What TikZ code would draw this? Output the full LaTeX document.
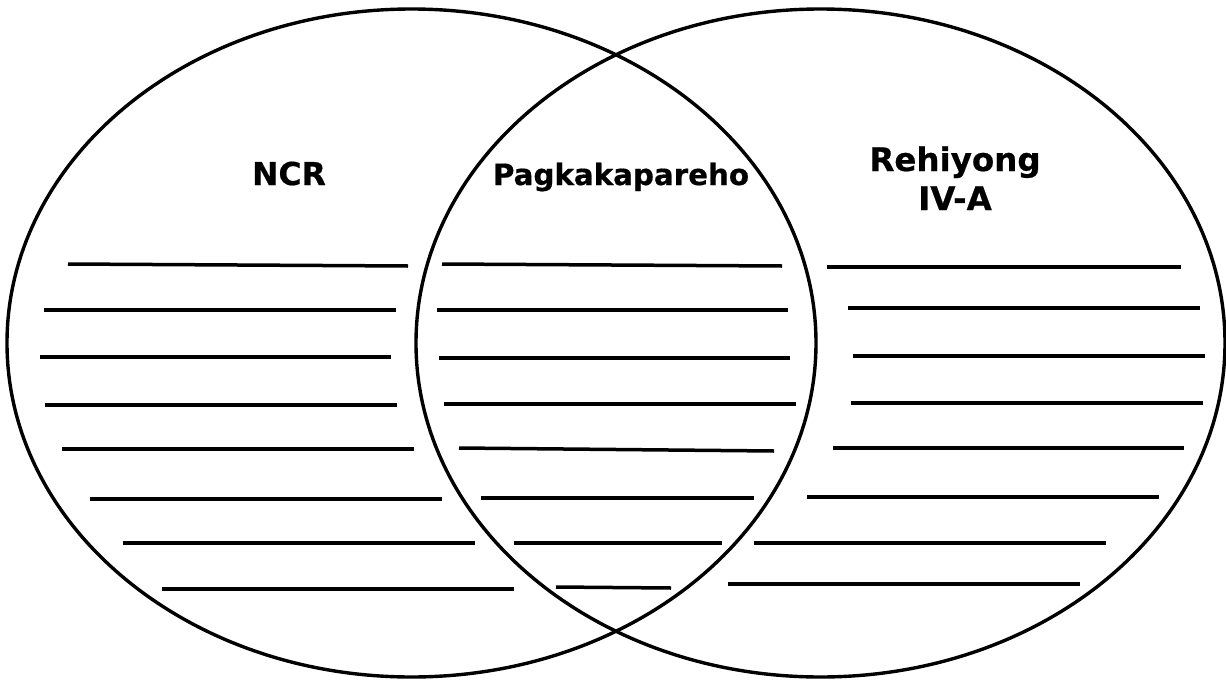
\documentclass[tikz,border=0pt]{standalone}
\usepackage{fontspec}
\setmainfont{DejaVu Sans}[BoldFeatures={FakeBold=0.6}]
\begin{document}
\begin{tikzpicture}[x=1pt,y=-1pt,
  ring/.style={draw=black,line width=3.4pt},
  blank/.style={draw=black,line width=3.5pt},
  label/.style={font=\fontsize{31.5}{38}\selectfont\bfseries,inner sep=0pt,anchor=base,align=center}]
\useasboundingbox (0,0) rectangle (1226,680);
\fill[white] (0,0) rectangle (1226,680);
\coordinate (cl) at (411.5,343);
\coordinate (cr) at (820.5,343);
\draw[ring] (cl) ellipse [x radius=404.5, y radius=334];
\draw[ring] (cr) ellipse [x radius=404.5, y radius=334];
\node[label] (ncr) at (289,185) {NCR};
\node[label,font=\fontsize{29.3}{38}\selectfont\bfseries] (pag) at (621,185) {Pagkakapareho};
\node[label,font=\fontsize{32.5}{38}\selectfont\bfseries] (reh) at (955,171) {Rehiyong};
\node[label,font=\fontsize{32.5}{38}\selectfont\bfseries] (iva) at (955,210) {IV-A};
% left column
\draw[blank] (68,264) -- (408,266);
\draw[blank] (44,310) -- (396,310);
\draw[blank] (40,357) -- (391,357);
\draw[blank] (45,405) -- (397,405);
\draw[blank] (62,449) -- (414,449);
\draw[blank] (90,499) -- (442,499);
\draw[blank] (123,543) -- (475,543);
\draw[blank] (162,589) -- (514,589);
% middle column
\draw[blank] (442,264) -- (782,266);
\draw[blank] (437,310) -- (788,310);
\draw[blank] (439,358) -- (790,358);
\draw[blank] (444,404) -- (796,404);
\draw[blank] (459,448) -- (774,451);
\draw[blank] (481,498) -- (754,498);
\draw[blank] (514,543) -- (722,543);
\draw[blank] (556,587) -- (671,588);
% right column
\draw[blank] (827,267) -- (1181,267);
\draw[blank] (848,308) -- (1200,308);
\draw[blank] (853,356) -- (1205,356);
\draw[blank] (851,403) -- (1203,403);
\draw[blank] (833,448) -- (1184,448);
\draw[blank] (807,497) -- (1159,497);
\draw[blank] (754,543) -- (1106,543);
\draw[blank] (728,584) -- (1080,584);
\end{tikzpicture}
\end{document}
